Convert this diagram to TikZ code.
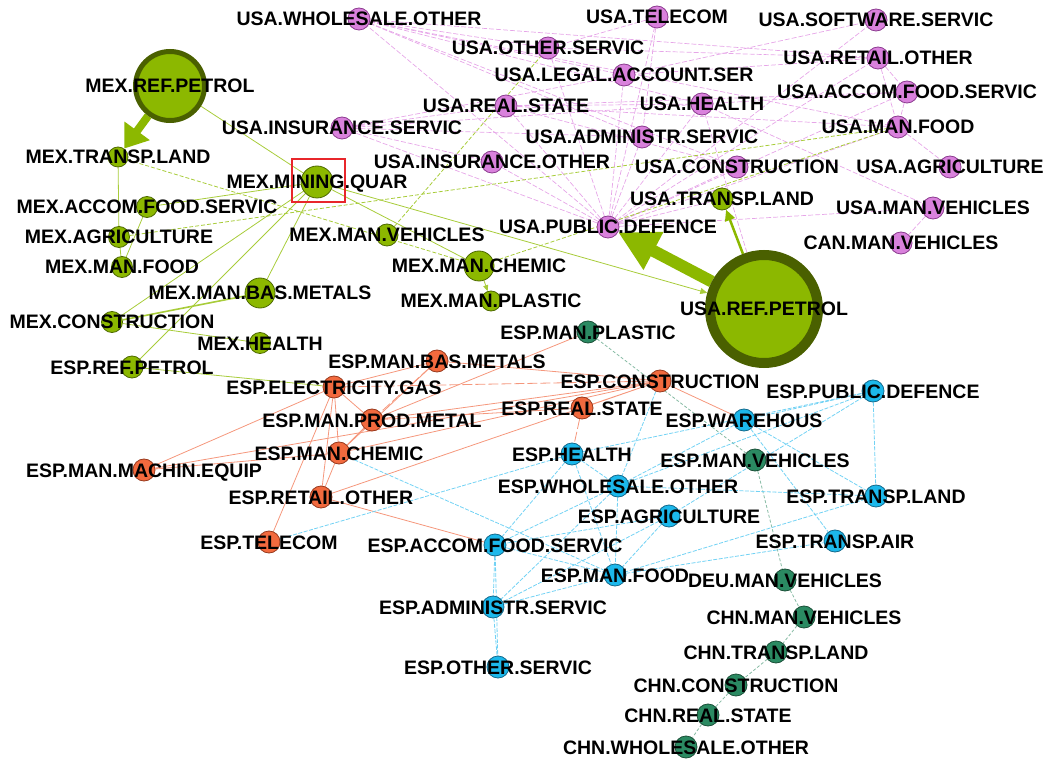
\documentclass[tikz,border=0pt]{standalone}
\usepackage{fontspec}
\setmainfont{Liberation Sans}
\usepackage{tikz}
\usetikzlibrary{arrows.meta}
\usetikzlibrary{backgrounds}
\usepackage{xcolor}

\definecolor{mexFill}{HTML}{8CB800}
\definecolor{mexLine}{HTML}{4E6A00}
\definecolor{bigRing}{HTML}{4A6000}
\definecolor{usaFill}{HTML}{D981DC}
\definecolor{usaLine}{HTML}{8C3C90}
\definecolor{espFill}{HTML}{F26A3E}
\definecolor{espLine}{HTML}{983A1E}
\definecolor{srvFill}{HTML}{1CB8EB}
\definecolor{srvLine}{HTML}{146A8C}
\definecolor{vehFill}{HTML}{2B8A62}
\definecolor{vehLine}{HTML}{1B5038}
\definecolor{mexEdgeC}{HTML}{A8CC3A}
\definecolor{usaEdgeC}{HTML}{E6A6E8}
\definecolor{espEdgeC}{HTML}{F5977C}
\definecolor{srvEdgeC}{HTML}{72D2F4}
\definecolor{vehEdgeC}{HTML}{86BBA3}
\definecolor{boxRed}{HTML}{E8262B}

\begin{document}
\begin{tikzpicture}[x=1pt, y=-1pt,
  every label/.style={font=\fontsize{19.5}{20}\selectfont\bfseries, text height=14pt, text depth=0pt, inner sep=0pt},
  sector/.style={circle, draw, line width=0.8pt, inner sep=0pt, minimum size=22pt},
  mex/.style={sector, fill=mexFill, draw=mexLine},
  hub/.style={mex, draw=bigRing},
  usa/.style={sector, fill=usaFill, draw=usaLine},
  esp/.style={sector, fill=espFill, draw=espLine},
  srv/.style={sector, fill=srvFill, draw=srvLine},
  veh/.style={sector, fill=vehFill, draw=vehLine},
  mexEdge/.style={draw=mexEdgeC, line width=0.8pt},
  usaEdge/.style={draw=usaEdgeC, line width=0.7pt, dash pattern=on 5pt off 2pt},
  espEdge/.style={draw=espEdgeC, line width=0.8pt},
  srvEdge/.style={draw=srvEdgeC, line width=0.8pt, dash pattern=on 4pt off 1.5pt},
  vehEdge/.style={draw=vehEdgeC, line width=0.8pt, dash pattern=on 3pt off 2pt}]
  \useasboundingbox (0,0) rectangle (1055,759);

  \node (mexRef) [hub, minimum size=69pt, line width=5pt, label=center:MEX.REF.PETROL] at (170,86) {};
  \node (usaRef) [hub, minimum size=108pt, line width=10pt, label=center:USA.REF.PETROL] at (764,309) {};
  \node (mexTransp) [mex, minimum size=20pt, label=center:MEX.TRANSP.LAND] at (118,157) {};
  \node (mexMining) [mex, minimum size=32pt, label=center:MEX.MINING.QUAR] at (317,182) {};
  \node (mexAccom) [mex, minimum size=21pt, label=center:MEX.ACCOM.FOOD.SERVIC] at (147,207) {};
  \node (mexAgri) [mex, minimum size=21pt, label=center:MEX.AGRICULTURE] at (119,237) {};
  \node (mexFood) [mex, minimum size=21pt, label=center:MEX.MAN.FOOD] at (122,267) {};
  \node (mexVeh) [mex, label=center:MEX.MAN.VEHICLES] at (387,235) {};
  \node (mexChem) [mex, minimum size=30pt, label=center:MEX.MAN.CHEMIC] at (479,266) {};
  \node (mexBas) [mex, minimum size=30pt, label=center:MEX.MAN.BAS.METALS] at (260,293) {};
  \node (mexPlast) [mex, minimum size=20pt, label=center:MEX.MAN.PLASTIC] at (491,301) {};
  \node (mexConst) [mex, minimum size=21pt, label=center:MEX.CONSTRUCTION] at (112,322) {};
  \node (mexHealth) [mex, minimum size=21pt, label=center:MEX.HEALTH] at (260,343) {};
  \node (espRef) [mex, label=center:ESP.REF.PETROL] at (132,367) {};
  \node (usaTransp) [mex, label=center:USA.TRANSP.LAND] at (722,199) {};

  \node (usaWhole) [usa, label=center:USA.WHOLESALE.OTHER] at (359,19) {};
  \node (usaTel) [usa, label=center:USA.TELECOM] at (657,17) {};
  \node (usaSoft) [usa, label=center:USA.SOFTWARE.SERVIC] at (876,20) {};
  \node (usaOther) [usa, label=center:USA.OTHER.SERVIC] at (548,48) {};
  \node (usaLegal) [usa, label=center:USA.LEGAL.ACCOUNT.SER] at (624,75) {};
  \node (usaRetail) [usa, label=center:USA.RETAIL.OTHER] at (878,58) {};
  \node (usaReal) [usa, label=center:USA.REAL.STATE] at (506,106) {};
  \node (usaHealth) [usa, label=center:USA.HEALTH] at (702,104) {};
  \node (usaAccom) [usa, label=center:USA.ACCOM.FOOD.SERVIC] at (907,92) {};
  \node (usaInsServ) [usa, label=center:USA.INSURANCE.SERVIC] at (342,128) {};
  \node (usaAdmin) [usa, label=center:USA.ADMINISTR.SERVIC] at (642,137) {};
  \node (usaFood) [usa, label=center:USA.MAN.FOOD] at (898,127) {};
  \node (usaInsOther) [usa, label=center:USA.INSURANCE.OTHER] at (492,162) {};
  \node (usaConst) [usa, label=center:USA.CONSTRUCTION] at (737,167) {};
  \node (usaAgri) [usa, label=center:USA.AGRICULTURE] at (950,167) {};
  \node (usaPub) [usa, label=center:USA.PUBLIC.DEFENCE] at (608,227) {};
  \node (usaVeh) [usa, label=center:USA.MAN.VEHICLES] at (933,208) {};
  \node (canVeh) [usa, label=center:CAN.MAN.VEHICLES] at (901,243) {};

  \node (espBas) [esp, label=center:ESP.MAN.BAS.METALS] at (437,361) {};
  \node (espElec) [esp, label=center:ESP.ELECTRICITY.GAS] at (334,387) {};
  \node (espConst) [esp, label=center:ESP.CONSTRUCTION] at (660,381) {};
  \node (espReal) [esp, label=center:ESP.REAL.STATE] at (582,408) {};
  \node (espProd) [esp, label=center:ESP.MAN.PROD.METAL] at (372,420) {};
  \node (espChem) [esp, label=center:ESP.MAN.CHEMIC] at (339,453) {};
  \node (espMachin) [esp, label=center:ESP.MAN.MACHIN.EQUIP] at (144,470) {};
  \node (espRetail) [esp, label=center:ESP.RETAIL.OTHER] at (321,497) {};
  \node (espTel) [esp, label=center:ESP.TELECOM] at (269,542) {};

  \node (espPlast) [veh, label=center:ESP.MAN.PLASTIC] at (588,332) {};
  \node (espVeh) [veh, label=center:ESP.MAN.VEHICLES] at (755,460) {};
  \node (deuVeh) [veh, label=center:DEU.MAN.VEHICLES] at (785,580) {};
  \node (chnVeh) [veh, label=center:CHN.MAN.VEHICLES] at (804,617) {};
  \node (chnTransp) [veh, label=center:CHN.TRANSP.LAND] at (776,652) {};
  \node (chnConst) [veh, label=center:CHN.CONSTRUCTION] at (736,685) {};
  \node (chnReal) [veh, label=center:CHN.REAL.STATE] at (708,715) {};
  \node (chnWhole) [veh, label=center:CHN.WHOLESALE.OTHER] at (686,747) {};

  \node (espPub) [srv, label=center:ESP.PUBLIC.DEFENCE] at (873,391) {};
  \node (espWare) [srv, label=center:ESP.WAREHOUS] at (744,420) {};
  \node (espHealth) [srv, label=center:ESP.HEALTH] at (572,454) {};
  \node (espWhole) [srv, label=center:ESP.WHOLESALE.OTHER] at (618,486) {};
  \node (espTrLand) [srv, label=center:ESP.TRANSP.LAND] at (876,496) {};
  \node (espAgri) [srv, label=center:ESP.AGRICULTURE] at (669,516) {};
  \node (espTrAir) [srv, label=center:ESP.TRANSP.AIR] at (835,541) {};
  \node (espAccom) [srv, label=center:ESP.ACCOM.FOOD.SERVIC] at (495,545) {};
  \node (espFood) [srv, label=center:ESP.MAN.FOOD] at (615,575) {};
  \node (espAdmin) [srv, label=center:ESP.ADMINISTR.SERVIC] at (493,607) {};
  \node (espOther) [srv, label=center:ESP.OTHER.SERVIC] at (498,667) {};

  \node (focus) [draw=boxRed, line width=2pt, minimum width=53pt, minimum height=43pt, inner sep=0pt] at (318.5,180.5) {};

  \begin{scope}[on background layer]
    \draw[usaEdge] (usaPub) -- (usaWhole) (usaPub) -- (usaTel) (usaPub) -- (usaOther) (usaPub) -- (usaLegal);
    \draw[usaEdge] (usaPub) -- (usaReal) (usaPub) -- (usaInsServ) (usaPub) -- (usaInsOther) (usaPub) -- (usaAdmin);
    \draw[usaEdge] (usaPub) -- (usaHealth) (usaPub) -- (usaConst) (usaPub) -- (usaRetail) (usaPub) -- (usaSoft);
    \draw[usaEdge] (usaPub) -- (usaAccom) (usaPub) -- (usaFood) (usaPub) -- (usaVeh) (usaPub) -- (usaTransp);
    \draw[usaEdge] (usaWhole) -- (usaOther) (usaWhole) -- (usaLegal) (usaWhole) -- (usaHealth) (usaWhole) -- (usaAdmin);
    \draw[usaEdge] (usaWhole) -- (usaConst) (usaWhole) -- (usaRetail) (usaWhole) -- (usaFood);
    \draw[usaEdge] (usaInsServ) -- (usaReal) (usaInsServ) -- (usaLegal) (usaInsServ) -- (usaHealth) (usaInsServ) -- (usaAdmin) (usaInsServ) -- (usaInsOther);
    \draw[usaEdge] (usaReal) -- (usaHealth) (usaReal) -- (usaAccom) (usaReal) -- (usaConst) (usaFood) -- (usaReal);
    \draw[usaEdge] (usaTel) -- (usaOther) (usaTel) -- (usaAdmin) (usaSoft) -- (usaLegal);
    \draw[usaEdge] (usaRetail) -- (usaAccom) (usaRetail) -- (usaFood) (usaRetail) -- (usaLegal) (usaRetail) -- (usaOther);
    \draw[usaEdge] (usaAccom) -- (usaFood) (usaAccom) -- (usaHealth) (usaFood) -- (usaAgri);
    \draw[usaEdge] (usaHealth) -- (usaVeh) (usaVeh) -- (canVeh) (usaRef) -- (usaHealth);

    \draw[mexEdge] (mexRef) -- (mexMining) (mexTransp) -- (mexAgri) (mexAgri) -- (mexFood) (mexAccom) -- (mexFood);
    \draw[mexEdge] (mexMining) -- (mexConst) (mexMining) -- (espRef) (mexMining) -- (mexBas) (mexMining) -- (mexAccom) (mexMining) -- (mexChem);
    \draw[mexEdge] (mexConst) -- (mexHealth) (espRef) -- (espElec);
    \draw[mexEdge, line width=1.6pt] (mexConst) -- (mexBas);
    \draw[mexEdge, dash pattern=on 4pt off 2pt] (mexTransp) -- (mexChem) (mexAgri) -- (usaFood) (mexChem) -- (usaFood) (mexVeh) -- (usaOther);
    \draw[mexEdge, -{Triangle[length=7pt,width=6pt]}] (mexMining) -- (usaRef);
    \draw[mexEdge, -{Triangle[length=6pt,width=5pt]}] (mexChem) -- (mexPlast);
    \draw[mexEdge, draw=mexFill, line width=2.5pt, -{Triangle[length=11pt,width=10pt]}] (usaRef) -- (usaTransp);
    \draw[draw=mexFill, fill=mexFill, line width=8pt, -{Triangle[length=22pt,width=30pt]}] (mexRef) -- (mexTransp);
    \draw[draw=mexFill, fill=mexFill, line width=12pt, -{Triangle[length=40pt,width=40pt]}] (usaRef) -- (usaPub);

    \draw[espEdge] (espElec) -- (espBas) (espElec) -- (espMachin) (espElec) -- (espChem) (espElec) -- (espRetail);
    \draw[espEdge] (espElec) -- (espTel) (espElec) -- (espProd) (espBas) -- (espChem) (espBas) -- (espConst);
    \draw[espEdge] (espProd) -- (espConst) (espProd) -- (espChem) (espProd) -- (espReal) (espPlast) -- (espProd);
    \draw[espEdge] (espChem) -- (espMachin) (espChem) -- (espRetail) (espChem) -- (espConst) (espMachin) -- (espConst);
    \draw[espEdge] (espRetail) -- (espConst) (espRetail) -- (espAccom) (espReal) -- (espConst) (espConst) -- (espWare);
    \draw[espEdge, dash pattern=on 10pt off 3pt] (espElec) -- (espConst) (espBas) -- (espProd) (espReal) -- (espHealth);

    \draw[vehEdge] (espPlast) -- (espVeh) (espVeh) -- (deuVeh) (deuVeh) -- (chnVeh) (chnVeh) -- (chnTransp);
    \draw[vehEdge] (chnTransp) -- (chnConst) (chnConst) -- (chnReal) (chnReal) -- (chnWhole);

    \draw[srvEdge] (espConst) -- (espWhole) (espHealth) -- (espWhole) (espHealth) -- (espAccom) (espHealth) -- (espFood);
    \draw[srvEdge] (espHealth) -- (espTel) (espHealth) -- (espPub) (espWhole) -- (espTrLand) (espWhole) -- (espPub);
    \draw[srvEdge] (espWhole) -- (espFood) (espWhole) -- (espAccom) (espWhole) -- (espAdmin) (espWhole) -- (espWare);
    \draw[srvEdge] (espWare) -- (espPub) (espWare) -- (espTrLand) (espWare) -- (espTrAir) (espPub) -- (espTrLand);
    \draw[srvEdge] (espPub) -- (espAgri) (espTrLand) -- (espFood) (espFood) -- (espTrAir) (espAgri) -- (espFood);
    \draw[srvEdge] (espAgri) -- (espAccom) (espAgri) -- (espAdmin) (espAccom) -- (espAdmin) (espAdmin) -- (espOther);
    \draw[srvEdge] (espAccom) -- (espOther) (espAdmin) -- (espFood) (espAccom) -- (espFood) (espChem) -- (espFood);
  \end{scope}
\end{tikzpicture}
\end{document}
